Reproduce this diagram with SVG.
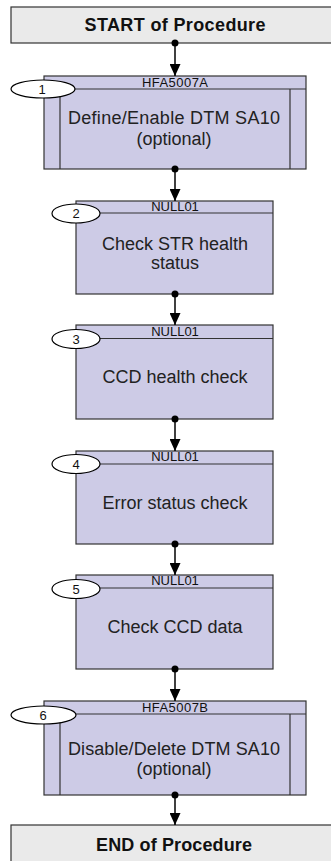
<svg xmlns="http://www.w3.org/2000/svg" width="331" height="861" viewBox="0 0 331 861">
  <defs>
    <marker id="arrow" viewBox="0 0 12 11" refX="12" refY="5.5" markerWidth="12" markerHeight="11" markerUnits="userSpaceOnUse" orient="auto">
      <path d="M0,0 L12,5.5 L0,11 Z" fill="#000"/>
    </marker>
  </defs>
  <style>
    .term { fill: #EAEAEA; stroke: #333; stroke-width: 1.2; }
    .box { fill: #CDCBE6; stroke: #333; stroke-width: 1.2; }
    .rule { stroke: #333; stroke-width: 1.2; fill: none; }
    .badge { fill: #fff; stroke: #000; stroke-width: 1.2; }
    .termtxt { font-family: "Liberation Sans", Arial, sans-serif; font-weight: bold; font-size: 18px; text-anchor: middle; fill: #111; }
    .hdr { font-family: "Liberation Sans", Arial, sans-serif; font-size: 13px; text-anchor: middle; fill: #111; }
    .num { font-family: "Liberation Sans", Arial, sans-serif; font-size: 13px; text-anchor: middle; fill: #111; }
    .body { font-family: "Liberation Sans", Arial, sans-serif; font-size: 18px; text-anchor: middle; fill: #222; }
    .link { stroke: #000; stroke-width: 1.5; fill: none; marker-end: url(#arrow); }
    .dot { fill: #000; }
  </style>

  <!-- start / end terminals -->
  <g id="start">
    <rect class="term" x="11" y="7" width="330" height="36"/>
    <text class="termtxt" x="175" y="31" textLength="181" lengthAdjust="spacing">START of Procedure</text>
  </g>
  <g id="end">
    <rect class="term" x="11" y="825" width="330" height="50"/>
    <text class="termtxt" x="174" y="851" textLength="156" lengthAdjust="spacing">END of Procedure</text>
  </g>

  <!-- step 1: subprocess with side bars -->
  <g id="step1">
    <rect class="box" x="44" y="76" width="262" height="93"/>
    <line class="rule" x1="44" y1="89" x2="306" y2="89"/>
    <line class="rule" x1="60" y1="89" x2="60" y2="169"/>
    <line class="rule" x1="290" y1="89" x2="290" y2="169"/>
    <text class="hdr" x="175" y="86.5" textLength="66" lengthAdjust="spacing">HFA5007A</text>
    <ellipse class="badge" cx="43" cy="89" rx="32" ry="9"/>
    <text class="num" x="42" y="93.5">1</text>
    <text class="body" x="174" y="124" textLength="212" lengthAdjust="spacing">Define/Enable DTM SA10</text>
    <text class="body" x="174" y="145">(optional)</text>
  </g>

  <!-- step 2 -->
  <g id="step2">
    <rect class="box" x="76" y="201" width="197" height="93"/>
    <line class="rule" x1="76" y1="213" x2="273" y2="213"/>
    <text class="hdr" x="175" y="211">NULL01</text>
    <ellipse class="badge" cx="76" cy="213.5" rx="24" ry="9.5"/>
    <text class="num" x="76" y="218">2</text>
    <text class="body" x="175" y="250">Check STR health</text>
    <text class="body" x="175" y="269">status</text>
  </g>

  <!-- step 3 -->
  <g id="step3">
    <rect class="box" x="76" y="325" width="197" height="94"/>
    <line class="rule" x1="76" y1="338.5" x2="273" y2="338.5"/>
    <text class="hdr" x="175" y="335.5">NULL01</text>
    <ellipse class="badge" cx="76" cy="339" rx="24" ry="9.5"/>
    <text class="num" x="76" y="343.5">3</text>
    <text class="body" x="175" y="383">CCD health check</text>
  </g>

  <!-- step 4 -->
  <g id="step4">
    <rect class="box" x="76" y="451" width="197" height="93"/>
    <line class="rule" x1="76" y1="464" x2="273" y2="464"/>
    <text class="hdr" x="175" y="461">NULL01</text>
    <ellipse class="badge" cx="76" cy="464" rx="24" ry="9.5"/>
    <text class="num" x="76" y="468.5">4</text>
    <text class="body" x="175" y="509">Error status check</text>
  </g>

  <!-- step 5 -->
  <g id="step5">
    <rect class="box" x="76" y="575" width="197" height="94"/>
    <line class="rule" x1="76" y1="588" x2="273" y2="588"/>
    <text class="hdr" x="175" y="585">NULL01</text>
    <ellipse class="badge" cx="76" cy="589" rx="24" ry="9.5"/>
    <text class="num" x="76" y="593.5">5</text>
    <text class="body" x="175" y="633">Check CCD data</text>
  </g>

  <!-- step 6: subprocess with side bars -->
  <g id="step6">
    <rect class="box" x="44" y="701" width="262" height="94"/>
    <line class="rule" x1="44" y1="714" x2="306" y2="714"/>
    <line class="rule" x1="60" y1="714" x2="60" y2="795"/>
    <line class="rule" x1="290" y1="714" x2="290" y2="795"/>
    <text class="hdr" x="175" y="711.5" textLength="66" lengthAdjust="spacing">HFA5007B</text>
    <ellipse class="badge" cx="43.5" cy="715" rx="32.5" ry="9"/>
    <text class="num" x="43" y="719.5">6</text>
    <text class="body" x="174" y="755" textLength="212" lengthAdjust="spacing">Disable/Delete DTM SA10</text>
    <text class="body" x="174" y="775">(optional)</text>
  </g>

  <!-- connectors -->
  <g id="connectors">
    <line class="link" x1="175" y1="43" x2="175" y2="76"/>
    <circle class="dot" cx="175" cy="43" r="3.5"/>
    <line class="link" x1="175" y1="169" x2="175" y2="201"/>
    <circle class="dot" cx="175" cy="169" r="3.5"/>
    <line class="link" x1="175" y1="294" x2="175" y2="325"/>
    <circle class="dot" cx="175" cy="294" r="3.5"/>
    <line class="link" x1="175" y1="419" x2="175" y2="451"/>
    <circle class="dot" cx="175" cy="419" r="3.5"/>
    <line class="link" x1="175" y1="544" x2="175" y2="575"/>
    <circle class="dot" cx="175" cy="544" r="3.5"/>
    <line class="link" x1="175" y1="669" x2="175" y2="701"/>
    <circle class="dot" cx="175" cy="669" r="3.5"/>
    <line class="link" x1="175" y1="795" x2="175" y2="825"/>
    <circle class="dot" cx="175" cy="795" r="3.5"/>
  </g>
</svg>
